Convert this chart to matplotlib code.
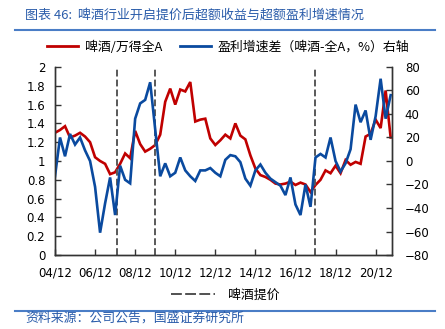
import matplotlib
matplotlib.use('Agg')
import matplotlib.pyplot as plt
from matplotlib.lines import Line2D
import numpy as np

plt.rcParams['font.family'] = ['DejaVu Sans', 'Noto Sans CJK SC']

# Quarterly readings, Dec 2004 to Sep 2021
beer_vs_a = [1.30, 1.33, 1.37, 1.25, 1.27, 1.30, 1.26, 1.20, 1.04, 1.00,
             0.97, 0.86, 0.88, 0.97, 1.08, 1.03, 1.32, 1.18, 1.10, 1.13,
             1.17, 1.28, 1.63, 1.77, 1.60, 1.76, 1.74, 1.84, 1.42, 1.44,
             1.45, 1.24, 1.17, 1.22, 1.28, 1.24, 1.40, 1.27, 1.23, 1.06,
             0.92, 0.85, 0.83, 0.80, 0.76, 0.75, 0.76, 0.78, 0.745, 0.77,
             0.75, 0.67, 0.745, 0.80, 0.90, 0.87, 0.95, 0.87, 1.01, 0.96,
             0.99, 0.97, 1.26, 1.29, 1.44, 1.35, 1.75, 1.25]
profit_gap = [-13, 20, 4, 23, 14, 20, 9, 0, -22, -61,
              -36, -14, -46, -4, -16, -19, 36, 49, 52, 67,
              27, -13, -2, -13, -10, 3, -8, -13, -17, -8,
              -8, -6, -10, -13, 1, 5, 4, -1, -15, -21,
              -8, -3, -10, -15, -18, -21, -29, -14, -37, -46,
              -20, -39, 3, 6, 3, 20, 0, -9, -2, 10,
              48, 33, 43, 18, 38, 70, 36, 56]
months = np.arange(len(beer_vs_a)) * 3  # months after Dec 2004
tick_labels = ['04/12', '06/12', '08/12', '10/12', '12/12',
               '14/12', '16/12', '18/12', '20/12']
tick_pos = np.arange(len(tick_labels)) * 24
price_hikes = [37, 60, 156]

RED = '#C00000'
BLUE = '#0A4A9F'
TITLE_BLUE = '#2A5CAA'
SPINE = '#333333'
CJK = ['Noto Sans CJK SC', 'DejaVu Sans']

fig = plt.figure(figsize=(4.45, 3.29), dpi=100)
ax = fig.add_axes([0.1236, 0.2249, 0.758, 0.5715])
ax.plot(months, beer_vs_a, color=RED, lw=1.9, solid_joinstyle='miter')
for m in price_hikes:
    ax.axvline(m, color='#595959', ls=(0, (3.5, 1.6)), lw=1.4)

ax2 = ax.twinx()
ax2.plot(months, profit_gap, color=BLUE, lw=1.9, solid_joinstyle='miter')

ax.set_xlim(0, 202)
ax.set_ylim(0, 2)
ax2.set_ylim(-80, 80)
left_ticks = np.round(np.arange(0, 2.01, 0.2), 1)
ax.set_yticks(left_ticks)
ax.set_yticklabels([f'{v:g}' for v in left_ticks])
ax2.set_yticks(np.arange(-80, 81, 20))
ax.set_xticks(tick_pos)
ax.set_xticklabels(tick_labels)

for a in (ax, ax2):
    a.spines['top'].set_visible(False)
    for s in a.spines.values():
        s.set_color(SPINE)
        s.set_linewidth(1)
ax.tick_params(axis='y', direction='in', length=4, width=1, color=SPINE,
               labelsize=8.5, pad=7)
ax.tick_params(axis='x', direction='in', length=4, width=1, color=SPINE,
               labelsize=8.5, pad=8)
ax2.tick_params(axis='y', direction='in', length=4, width=1, color=SPINE,
                labelsize=8.5, pad=9)

# header
fig.text(25 / 445, 1 - 15 / 329, '图表 46:  啤酒行业开启提价后超额收益与超额盈利增速情况',
         color=TITLE_BLUE, style='italic', fontsize=9.4, va='center', family=CJK)
fig.add_artist(Line2D([15 / 445, 435 / 445], [1 - 30 / 329] * 2,
                      color='#4A7DC6', lw=1.5))

handles = [Line2D([], [], color=RED, lw=2), Line2D([], [], color=BLUE, lw=2)]
fig.legend(handles, ['啤酒/万得全A', '盈利增速差（啤酒-全A，%）右轴'],
           loc='center', bbox_to_anchor=(0.513, 1 - 47 / 329), ncol=2,
           frameon=False, handlelength=2.4, handletextpad=0.5,
           columnspacing=1.4, prop={'family': CJK, 'size': 9.3})

fig.legend([Line2D([], [], color='#333333', lw=1.2, ls=(0, (6.5, 2)))], ['啤酒提价'],
           loc='center', bbox_to_anchor=(0.506, 1 - 295 / 329),
           frameon=False, handlelength=3.4, handletextpad=1.0,
           prop={'family': CJK, 'size': 9.3})

# footer
fig.add_artist(Line2D([15 / 445, 435 / 445], [1 - 311 / 329] * 2,
                      color='#4A7DC6', lw=1.5))
fig.text(25 / 445, 1 - 318 / 329, '资料来源：公司公告，国盛证券研究所',
         color=TITLE_BLUE, style='italic', fontsize=9.3, va='center', family=CJK)

fig.savefig('out.png', dpi=100)
